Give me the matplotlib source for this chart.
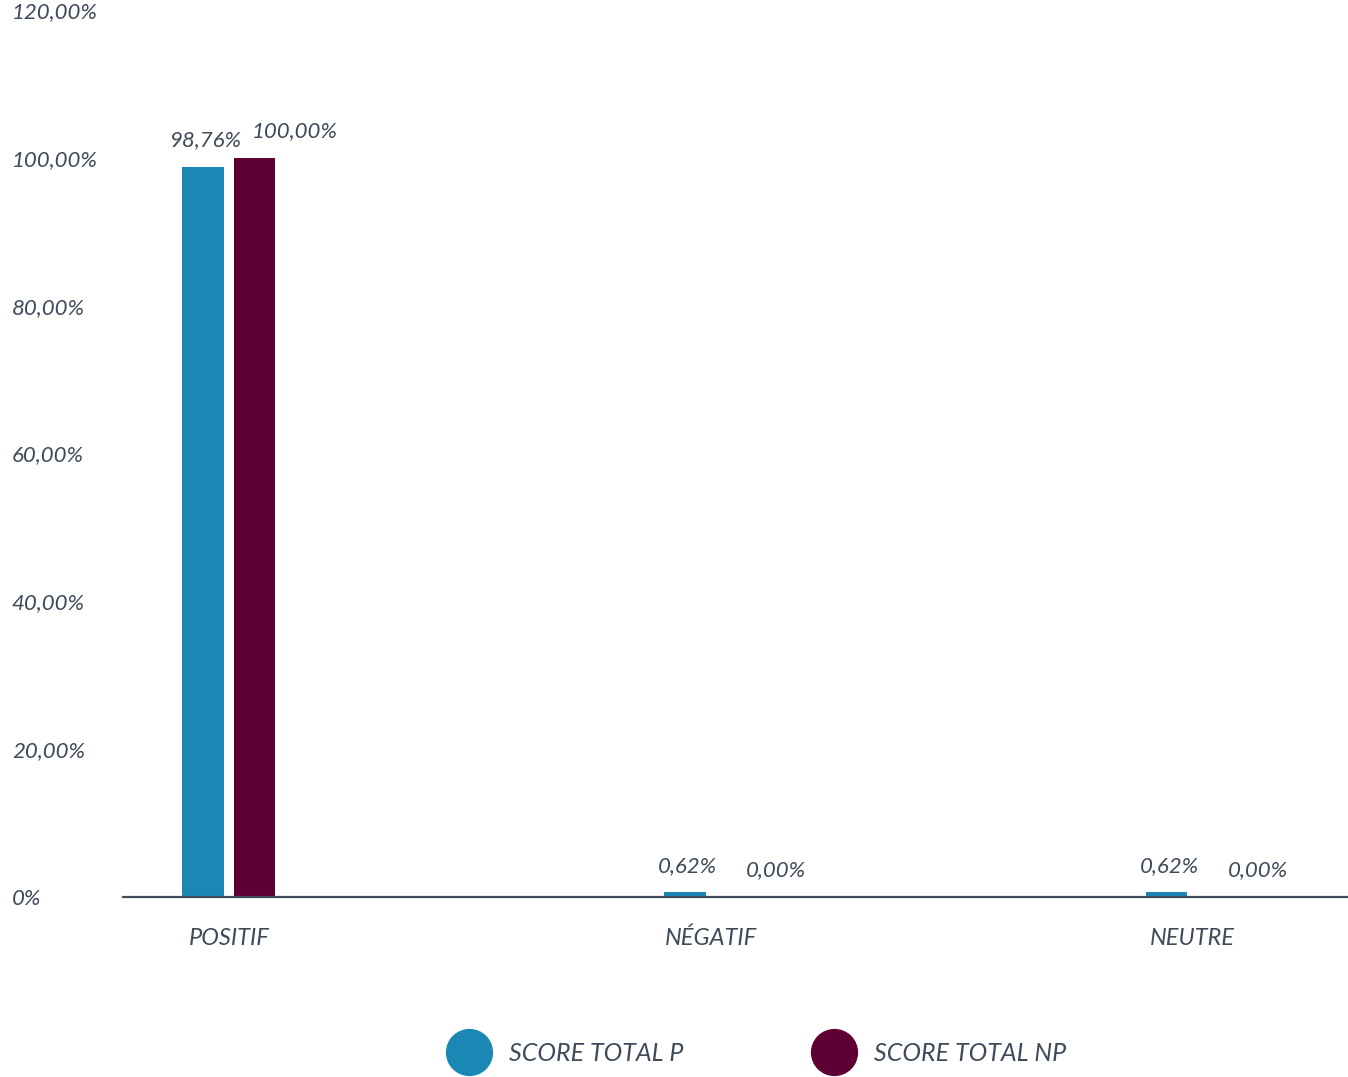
import matplotlib.pyplot as plt
from matplotlib.lines import Line2D

# data
categories = ['POSITIF', 'NÉGATIF', 'NEUTRE']
score_p = [98.76, 0.62, 0.62]
score_np = [100.00, 0.00, 0.00]
series_names = ['SCORE TOTAL P', 'SCORE TOTAL NP']
y_ticks = [0, 20, 40, 60, 80, 100, 120]
y_tick_labels = ['0%', '20,00%', '40,00%', '60,00%', '80,00%', '100,00%', '120,00%']

blue = '#1a87b5'
maroon = '#5e0033'
txt = '#3f4a5a'

plt.rcParams['font.family'] = ['Lato', 'DejaVu Sans']

fig = plt.figure(figsize=(13.48, 10.77), dpi=100)
ax = fig.add_axes([123 / 1348, 180 / 1077, 1225 / 1348, 887 / 1077])

x = list(range(len(categories)))
w = 0.087
off = 0.053
ax.bar([i - off for i in x], score_p, width=w, color=blue, zorder=2)
ax.bar([i + off for i in x], score_np, width=w, color=maroon, zorder=2)

def fmt(v):
    return ('%.2f' % v).replace('.', ',') + '%'

for i in x:
    ax.annotate(fmt(score_p[i]), (i - off, score_p[i]), xytext=(2, 12),
                textcoords='offset points', ha='center', va='bottom',
                fontsize=16, style='italic', color=txt)
    ax.annotate(fmt(score_np[i]), (i + off, score_np[i]), xytext=(29, 12),
                textcoords='offset points', ha='center', va='bottom',
                fontsize=16, style='italic', color=txt)

ax.set_xlim(-0.22, 2.324)
ax.set_ylim(0, 120)

ax.set_yticks(y_ticks)
ax.set_yticklabels(y_tick_labels, fontsize=16, style='italic', color=txt, ha='left')
ax.tick_params(axis='y', length=0, pad=80)
ax.set_xticks(x)
ax.set_xticklabels(categories, fontsize=17, style='italic', color=txt)
ax.tick_params(axis='x', length=0, pad=22)

for s in ['top', 'right', 'left']:
    ax.spines[s].set_visible(False)
ax.spines['bottom'].set_color(txt)
ax.spines['bottom'].set_linewidth(1.6)

handles = [Line2D([], [], marker='o', linestyle='none', markersize=33,
                  markerfacecolor=c, markeredgecolor=c) for c in (blue, maroon)]
leg = fig.legend(handles, series_names, loc='center', bbox_to_anchor=(0.56, 0.022),
                 ncol=2, frameon=False, handletextpad=0.6, columnspacing=5,
                 prop={'size': 18, 'style': 'italic'})
for t in leg.get_texts():
    t.set_color(txt)

fig.savefig('out.png', dpi=100)
